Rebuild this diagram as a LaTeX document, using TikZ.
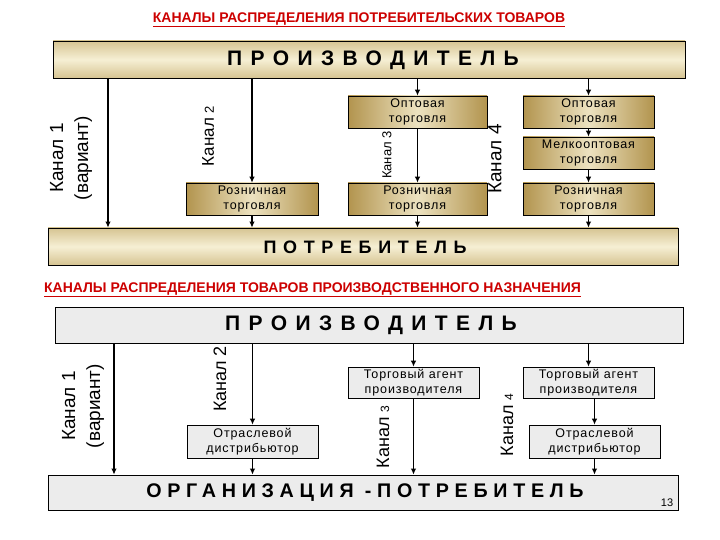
\documentclass[tikz,border=0pt]{standalone}
\usepackage{fontspec}
\setmainfont{Liberation Sans}
\newfontfamily\prodfont[LetterSpace=40]{Liberation Sans}
\newfontfamily\consfont[LetterSpace=37]{Liberation Sans}
\newfontfamily\orgfont[LetterSpace=29]{Liberation Sans}
\newfontfamily\boxfont[LetterSpace=7]{Liberation Sans}
\usetikzlibrary{arrows.meta}
\definecolor{goldD}{RGB}{178,148,78}
\definecolor{goldM}{RGB}{214,196,146}
\definecolor{goldL}{RGB}{246,239,212}
\definecolor{boxgray}{RGB}{236,236,236}
\definecolor{titlered}{RGB}{204,0,0}

\begin{document}
\begin{tikzpicture}[x=1pt, y=-1pt,
        bigbox/.style={draw, line width=0.8pt, inner sep=0pt, minimum height=37},
        goldbig/.style={bigbox, top color=goldM, bottom color=goldM, middle color=goldL},
        graybig/.style={bigbox, fill=boxgray},
        smallbox/.style={draw, line width=0.6pt, inner sep=0pt, minimum height=32,
            align=center, font=\boxfont\fontsize{12.5}{15}\selectfont},
        goldbox/.style={smallbox, left color=goldD, right color=goldD, middle color=goldL!70!goldM},
        graybox/.style={smallbox, fill=boxgray},
        prodtext/.style={font=\prodfont\bfseries\fontsize{21}{24}\selectfont},
        constext/.style={font=\consfont\bfseries\fontsize{18}{22}\selectfont},
        orgtext/.style={font=\orgfont\bfseries\fontsize{19.7}{22}\selectfont},
        chan/.style={rotate=90, align=center, font=\fontsize{19}{25}\selectfont},
        title/.style={text=titlered, font=\bfseries\fontsize{14}{16}\selectfont},
        arr/.style={line width=1.6pt, -{Latex[length=6pt, width=5.5pt]}}]
        \useasboundingbox (0,0) rectangle (720,540);

        % consumer goods
        \node[title] (t1) at (359,20) {\underline{КАНАЛЫ РАСПРЕДЕЛЕНИЯ ПОТРЕБИТЕЛЬСКИХ ТОВАРОВ}};
        \node[goldbig, minimum width=632] (prod1) at (369,59.5) {};
        \node[prodtext] at (373,60) {ПРОИЗВОДИТЕЛЬ};
        \node[goldbig, minimum width=630] (cons1) at (363,246.5) {};
        \node[constext] at (365,247) {ПОТРЕБИТЕЛЬ};

        \node[goldbox, minimum width=132] (r1) at (252,199) {Розничная\\торговля};
        \node[goldbox, minimum width=139] (w3) at (417.5,112) {Оптовая\\торговля};
        \node[goldbox, minimum width=139] (r3) at (417.5,199) {Розничная\\торговля};
        \node[goldbox, minimum width=131] (w4) at (588.5,112) {Оптовая\\торговля};
        \node[goldbox, minimum width=131] (m4) at (588.5,153) {Мелкооптовая\\торговля};
        \node[goldbox, minimum width=131] (r4) at (588.5,199) {Розничная\\торговля};

        \coordinate (c1) at (108,150);
        \draw[arr] (prod1.south -| c1) -- (cons1.north -| c1);
        \draw[arr] (prod1.south -| r1) -- (r1.north);
        \draw[arr] (r1.south) -- (cons1.north -| r1);
        \draw[arr] (prod1.south -| w3) -- (w3.north);
        \draw[arr] (w3.south) -- (r3.north);
        \draw[arr] (r3.south) -- (cons1.north -| r3);
        \draw[arr] (prod1.south -| w4) -- (w4.north);
        \draw[arr] (w4.south) -- (m4.north);
        \draw[arr] (m4.south) -- (r4.north);
        \draw[arr] (r4.south) -- (cons1.north -| r4);

        \node[chan] (k1) at (71,158) {Канал 1\\(вариант)};
        \node[chan, font=\fontsize{17}{20}\selectfont] (k2) at (208,136) {Канал {\fontsize{13}{15}\selectfont 2}};
        \node[chan, font=\fontsize{13}{15}\selectfont] (k3) at (387,155) {Канал 3};
        \node[chan] (k4) at (495,159) {Канал 4};

        % industrial goods
        \node[title] (t2) at (312.5,290) {\underline{КАНАЛЫ РАСПРЕДЕЛЕНИЯ ТОВАРОВ ПРОИЗВОДСТВЕННОГО НАЗНАЧЕНИЯ}};
        \node[graybig, minimum width=628, minimum height=36] (prod2) at (369,325) {};
        \node[prodtext] at (371,325) {ПРОИЗВОДИТЕЛЬ};
        \node[graybig, minimum width=630, minimum height=35] (org) at (363,492.5) {};
        \node[orgtext] at (365,493) {ОРГАНИЗАЦИЯ -ПОТРЕБИТЕЛЬ};
        \node[font=\fontsize{11}{13}\selectfont] (pg) at (667,503) {13};

        \node[graybox, minimum width=131, minimum height=33] (d2) at (252.5,441.5) {Отраслевой\\дистрибьютор};
        \node[graybox, minimum width=131, minimum height=31] (a3) at (413.5,382.5) {Торговый агент\\производителя};
        \node[graybox, minimum width=131, minimum height=31] (a4) at (588.5,382.5) {Торговый агент\\производителя};
        \node[graybox, minimum width=131, minimum height=33] (d4) at (594.5,441.5) {Отраслевой\\дистрибьютор};

        \coordinate (c1b) at (114,400);
        \draw[arr] (prod2.south -| c1b) -- (org.north -| c1b);
        \draw[arr] (prod2.south -| d2) -- (d2.north);
        \draw[arr] (d2.south) -- (org.north -| d2);
        \draw[arr] (prod2.south -| a3) -- (a3.north);
        \draw[arr] (a3.south) -- (org.north -| a3);
        \draw[arr] (prod2.south -| a4) -- (a4.north);
        \draw[arr] (a4.south -| d4) -- (d4.north);
        \draw[arr] (d4.south) -- (org.north -| d4);

        \node[chan] (k1b) at (83,406) {Канал 1\\(вариант)};
        \node[chan, font=\fontsize{18}{20}\selectfont] (k2b) at (220,379) {Канал 2};
        \node[chan, font=\fontsize{18}{20}\selectfont] (k3b) at (383,437) {Канал {\fontsize{12}{14}\selectfont 3}};
        \node[chan, font=\fontsize{18}{20}\selectfont] (k4b) at (507,425) {Канал {\fontsize{12}{14}\selectfont 4}};
    \end{tikzpicture}
\end{document}
